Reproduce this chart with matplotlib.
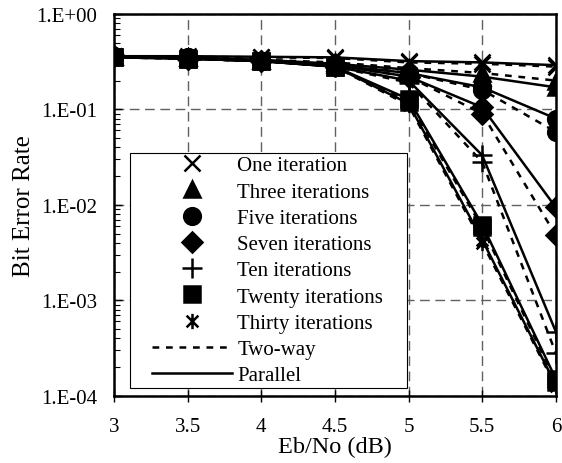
import matplotlib
matplotlib.use("Agg")
import matplotlib.pyplot as plt
import numpy as np
from matplotlib.lines import Line2D
from matplotlib.legend_handler import HandlerLine2D
from matplotlib.path import Path
from matplotlib.ticker import FixedLocator, FuncFormatter, LogLocator, NullFormatter

# Eb/No axis (dB)
snr_db = [3, 3.5, 4, 4.5, 5, 5.5, 6]

# bit error rate, two-way (dashed) and parallel (solid)
one_twoway = [0.36, 0.355, 0.35, 0.345, 0.31, 0.30, 0.28]
one_parallel = [0.36, 0.36, 0.355, 0.35, 0.32, 0.31, 0.29]
three_twoway = [0.36, 0.35, 0.33, 0.31, 0.27, 0.24, 0.20]
three_parallel = [0.36, 0.35, 0.33, 0.30, 0.26, 0.22, 0.17]
five_twoway = [0.36, 0.35, 0.32, 0.30, 0.24, 0.16, 0.058]
five_parallel = [0.36, 0.35, 0.32, 0.29, 0.24, 0.17, 0.08]
seven_twoway = [0.36, 0.34, 0.32, 0.29, 0.22, 0.09, 0.0048]
seven_parallel = [0.36, 0.34, 0.32, 0.29, 0.22, 0.105, 0.0094]
ten_twoway = [0.36, 0.34, 0.32, 0.28, 0.19, 0.028, 0.00028]
ten_parallel = [0.36, 0.34, 0.32, 0.28, 0.20, 0.033, 0.00047]
twenty_twoway = [0.35, 0.34, 0.32, 0.28, 0.12, 0.0058, 0.00014]
twenty_parallel = [0.35, 0.34, 0.32, 0.28, 0.128, 0.0062, 0.00015]
thirty_twoway = [0.35, 0.34, 0.32, 0.28, 0.11, 0.0040, 0.000125]
thirty_parallel = [0.35, 0.34, 0.32, 0.28, 0.115, 0.0043, 0.00013]

labels = ["One iteration", "Three iterations", "Five iterations",
          "Seven iterations", "Ten iterations", "Twenty iterations",
          "Thirty iterations"]

# excel style asterisk: an X with a vertical bar
asterisk = Path([(-1, -1), (1, 1), (-1, 1), (1, -1), (0, -1.3), (0, 1.3)],
                [Path.MOVETO, Path.LINETO, Path.MOVETO, Path.LINETO,
                 Path.MOVETO, Path.LINETO])

markers = ["x", "^", "o", "D", "+", "s", asterisk]
sizes = [12, 11, 12, 10, 14, 12, 11]

twoway = [one_twoway, three_twoway, five_twoway, seven_twoway,
          ten_twoway, twenty_twoway, thirty_twoway]
parallel = [one_parallel, three_parallel, five_parallel, seven_parallel,
            ten_parallel, twenty_parallel, thirty_parallel]


class OffsetHandler(HandlerLine2D):
    # excel-like legend: line starts a bit in, marker sits left of centre
    def get_xdata(self, legend, xdescent, ydescent, width, height, fontsize):
        x0 = -xdescent
        return [x0 + 0.188 * width, x0 + 0.968 * width], [x0 + 0.588 * width]


plt.rcParams['font.family'] = ['Liberation Serif', 'DejaVu Serif']

fig = plt.figure(figsize=(5.62, 4.64), dpi=100)
ax = fig.add_axes([0.203, 0.145, 0.786, 0.823])

dash = (0, (2.7, 2.7))
for i in range(len(labels)):
    ax.plot(snr_db, twoway[i], color='black', lw=1.8, linestyle=dash,
            marker=markers[i], ms=sizes[i], mew=1.8, zorder=3)
    ax.plot(snr_db, parallel[i], color='black', lw=1.8, linestyle='-',
            marker=markers[i], ms=sizes[i], mew=1.8, zorder=3)

ax.set_yscale('log')
ax.set_xlim(3, 6)
ax.set_ylim(1e-4, 1)

ax.xaxis.set_major_locator(FixedLocator(snr_db))
ax.xaxis.set_major_formatter(FuncFormatter(lambda v, p: f"{v:g}"))
ax.yaxis.set_major_locator(LogLocator(base=10, numticks=10))
ax.yaxis.set_major_formatter(FuncFormatter(lambda v, p: f"1.E{int(round(np.log10(v))):+03d}"))
ax.yaxis.set_minor_locator(LogLocator(base=10, subs=range(2, 10), numticks=20))
ax.yaxis.set_minor_formatter(NullFormatter())

ax.tick_params(axis='x', direction='inout', length=9, width=1, labelsize=15, pad=11)
ax.tick_params(axis='y', which='major', direction='in', length=6, width=1, labelsize=15, pad=12)
ax.tick_params(axis='y', which='minor', direction='in', length=4, width=0.8)

ax.grid(True, which='major', color='#606060', linestyle=(0, (7, 4)), lw=1)
for s in ax.spines.values():
    s.set_linewidth(1.8)

ax.set_xlabel("Eb/No (dB)", fontsize=17.5)
ax.xaxis.set_label_coords(0.5, -0.106)
ax.set_ylabel("Bit Error Rate", fontsize=18)
ax.yaxis.set_label_coords(-0.179, 0.5)

handles = [Line2D([], [], color='black', linestyle='none', marker=m, ms=s, mew=1.8)
           for m, s in zip(markers, sizes)]
handles.append(Line2D([], [], color='black', lw=1.8, linestyle=dash))
handles.append(Line2D([], [], color='black', lw=1.8, linestyle='-'))
names = labels + ["Two-way", "Parallel"]

leg = ax.legend(handles, names, loc='lower left', bbox_to_anchor=(0.035, 0.019, 0.628, 0.62),
                mode='expand', borderaxespad=0, borderpad=0.15, fontsize=15,
                handlelength=4.93, handletextpad=0.1, labelspacing=0.32,
                fancybox=False, framealpha=1, edgecolor='black',
                handler_map={Line2D: OffsetHandler(numpoints=1)})
leg.get_frame().set_linewidth(0.8)
leg.set_zorder(5)

fig.savefig("out.png", dpi=100)
